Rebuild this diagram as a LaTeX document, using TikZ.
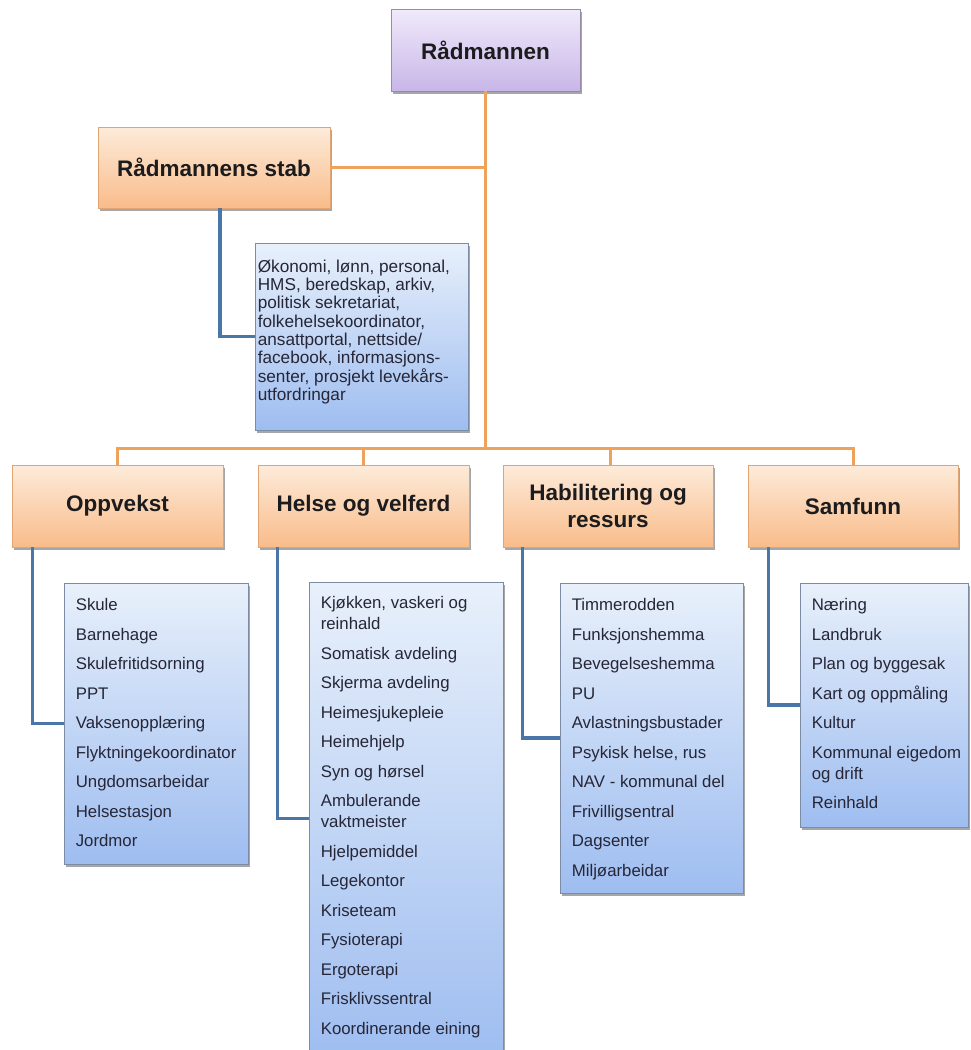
\documentclass[tikz,border=0pt]{standalone}
\usepackage{fontspec}
\setmainfont{Liberation Sans}
\usetikzlibrary{shadows}
\definecolor{orline}{HTML}{EFA35A}
\definecolor{blline}{HTML}{4A76A8}
\definecolor{radtop}{RGB}{240,234,250}
\definecolor{radbot}{RGB}{200,182,232}
\definecolor{radbrd}{RGB}{150,140,165}
\definecolor{ortop}{RGB}{253,235,218}
\definecolor{orbot}{RGB}{249,188,138}
\definecolor{orbrd}{RGB}{225,165,115}
\definecolor{bltop}{RGB}{232,240,251}
\definecolor{blbot}{RGB}{158,189,240}
\definecolor{blbrd}{RGB}{125,140,165}
\definecolor{txtc}{RGB}{38,38,55}
\definecolor{hdc}{RGB}{28,28,30}
\newcommand\nx{\\[8.5pt]}
\begin{document}
\begin{tikzpicture}[x=1pt,y=-1pt,
  shad/.style={drop shadow={shadow xshift=1.5pt,shadow yshift=-2.5pt,opacity=0.35,fill=black}},
  radbox/.style={shad,draw=radbrd,line width=0.8pt,top color=radtop,bottom color=radbot,
    minimum width=189pt,minimum height=82pt,inner sep=0pt,align=center,
    font=\fontsize{22.5}{27}\selectfont\bfseries,text=hdc},
  hdbox/.style={shad,draw=orbrd,line width=0.8pt,top color=ortop,bottom color=orbot,
    minimum width=211pt,minimum height=82pt,inner sep=0pt,align=center,
    font=\fontsize{22.5}{27}\selectfont\bfseries,text=hdc},
  listbox/.style={shad,draw=blbrd,line width=0.8pt,top color=bltop,bottom color=blbot,inner sep=0pt},
  listtext/.style={anchor=north west,inner sep=0pt,align=left,text=txtc,
    font=\fontsize{16.8}{21}\selectfont},
  orconn/.style={draw=orline,line width=3pt},
  blconn/.style={draw=blline,line width=3.5pt}
]
\useasboundingbox (0,0) rectangle (971,1050);
\fill[white] (0,0) rectangle (971,1050);

% connectors (drawn first, below boxes)
\coordinate (bus) at (485.5,448);
\coordinate (top) at (485.5,91);
\coordinate (stabj) at (485.5,167.5);

% boxes
\node[radbox] (rad) at (485.5,50) {Rådmannen};
\node[hdbox,minimum width=232pt,minimum height=81pt] (stab) at (214,167.5) {Rådmannens stab};
\node[hdbox] (opp) at (117.5,506) {Oppvekst};
\node[hdbox] (hel) at (363.5,506) {Helse og velferd};
\node[hdbox,minimum width=210pt] (hab) at (608,506) {Habilitering og\\ressurs};
\node[hdbox,minimum width=210pt] (sam) at (853,506) {Samfunn};

\node[listbox,minimum width=213pt,minimum height=187pt] (stabl) at (361.5,336.5) {};
\node[listbox,minimum width=184pt,minimum height=281pt] (oppl) at (156,723.5) {};
\node[listbox,minimum width=194pt,minimum height=476pt] (hell) at (406,820) {};
\node[listbox,minimum width=183pt,minimum height=310pt] (habl) at (651.5,738) {};
\node[listbox,minimum width=168pt,minimum height=244pt] (saml) at (884,705) {};

% orange connectors
\draw[orconn] (rad.south) -- (bus);
\draw[orconn] (stab.east) -- (stabj);
\draw[orconn] (opp.north) |- (bus) -| (sam.north);
\draw[orconn] (hel.north) -- (hel.north |- bus);
\draw[orconn] ([xshift=2pt]hab.north) -- ([xshift=2pt]hab.north |- bus);

% blue connectors
\draw[blconn] ([xshift=6pt]stab.south) |- (stabl.west);
\draw[blconn] ([xshift=21pt]opp.south west) |- (oppl.west);
\draw[blconn] ([xshift=20pt]hel.south west) |- ([yshift=1.5pt]hell.west);
\draw[blconn] ([xshift=20pt]hab.south west) |- (habl.west);
\draw[blconn] ([xshift=21pt]sam.south west) |- (saml.west);

% texts
\node[listtext,font=\fontsize{17.2}{18.3}\selectfont] (stabt) at ([xshift=3pt,yshift=-17pt]stabl.north west)
 {Økonomi, lønn, personal,\\HMS, beredskap, arkiv,\\politisk sekretariat,\\folkehelsekoordinator,\\ansattportal, nettside/\\facebook, informasjons-\\senter, prosjekt levekårs-\\utfordringar};
\node[listtext] (oppt) at ([xshift=12pt,yshift=-16pt]oppl.north west)
 {Skule\nx Barnehage\nx Skulefritidsorning\nx PPT\nx Vaksenopplæring\nx Flyktningekoordinator\nx Ungdomsarbeidar\nx Helsestasjon\nx Jordmor};
\node[listtext] (helt) at ([xshift=12pt,yshift=-15pt]hell.north west)
 {Kjøkken, vaskeri og\\reinhald\nx Somatisk avdeling\nx Skjerma avdeling\nx Heimesjukepleie\nx Heimehjelp\nx Syn og hørsel\nx Ambulerande\\vaktmeister\nx Hjelpemiddel\nx Legekontor\nx Kriseteam\nx Fysioterapi\nx Ergoterapi\nx Frisklivssentral\nx Koordinerande eining};
\node[listtext] (habt) at ([xshift=12pt,yshift=-16pt]habl.north west)
 {Timmerodden\nx Funksjonshemma\nx Bevegelseshemma\nx PU\nx Avlastningsbustader\nx Psykisk helse, rus\nx NAV - kommunal del\nx Frivilligsentral\nx Dagsenter\nx Miljøarbeidar};
\node[listtext] (samt) at ([xshift=12pt,yshift=-16pt]saml.north west)
 {Næring\nx Landbruk\nx Plan og byggesak\nx Kart og oppmåling\nx Kultur\nx Kommunal eigedom\\og drift\nx Reinhald};
\end{tikzpicture}
\end{document}
